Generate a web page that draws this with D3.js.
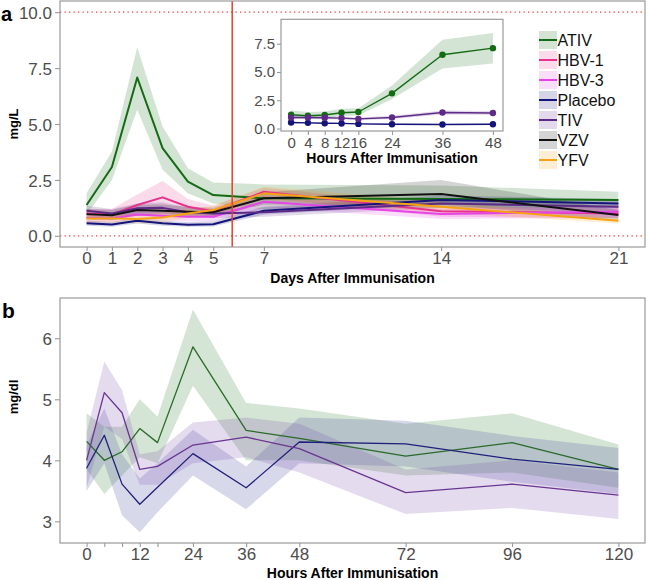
<!DOCTYPE html>
<html>
<head>
<meta charset="utf-8">
<script src="https://cdn.jsdelivr.net/npm/d3@7"></script>
<style>
  html, body { margin: 0; padding: 0; background: #fff; }
  svg { display: block; font-family: "Liberation Sans", Arial, sans-serif; }
</style>
</head>
<body>
<svg id="chart" width="648" height="580"></svg>
<script>
// ---------------- DATA ----------------
const seriesNames = ["ATIV", "HBV-1", "HBV-3", "Placebo", "TIV", "VZV", "YFV"];
const seriesColors = ["#136b13", "#e8338c", "#e645e6", "#14147a", "#5e2a88", "#111111", "#f5a313"];

// Panel a: days after immunisation
const days = [0, 1, 2, 3, 4, 5, 7, 14, 21];
const dayTicks = [0, 1, 2, 3, 4, 5, 7, 14, 21];
const mainValues = {
  "ATIV":    [1.38, 3.08, 7.08, 3.92, 2.42, 1.82, 1.68, 1.65, 1.60],
  "HBV-1":   [1.00, 0.95, 1.38, 1.72, 1.30, 1.10, 1.97, 1.10, 1.00],
  "HBV-3":   [0.80, 0.78, 0.95, 0.90, 0.85, 0.85, 1.52, 0.98, 1.08],
  "Placebo": [0.56, 0.51, 0.67, 0.56, 0.50, 0.52, 1.12, 1.60, 1.45],
  "TIV":     [1.12, 1.00, 1.23, 1.25, 1.05, 1.00, 1.05, 1.45, 1.30],
  "VZV":     [0.97, 0.92, 1.15, 1.12, 1.08, 1.05, 1.68, 1.87, 0.93],
  "YFV":     [0.78, 0.78, 0.75, 0.82, 1.00, 1.15, 1.90, 1.30, 0.67]
};
const mainLower = {
  "ATIV":    [0.95, 2.50, 5.64, 2.95, 1.90, 1.45, 1.20, 1.25, 1.25],
  "HBV-1":   [0.80, 0.75, 0.90, 1.00, 0.95, 0.85, 1.70, 0.85, 0.80],
  "HBV-3":   [0.60, 0.60, 0.75, 0.70, 0.65, 0.65, 1.25, 0.75, 0.80],
  "Placebo": [0.45, 0.40, 0.55, 0.45, 0.40, 0.42, 0.95, 1.40, 1.25],
  "TIV":     [0.90, 0.80, 1.00, 1.00, 0.85, 0.80, 0.85, 1.25, 1.05],
  "VZV":     [0.75, 0.70, 0.90, 0.85, 0.85, 0.85, 1.40, 1.40, 0.70],
  "YFV":     [0.60, 0.60, 0.55, 0.60, 0.80, 0.95, 1.60, 1.05, 0.55]
};
const mainUpper = {
  "ATIV":    [1.90, 3.77, 8.43, 4.89, 3.02, 2.38, 2.30, 2.25, 1.97],
  "HBV-1":   [1.20, 1.20, 1.85, 2.45, 1.65, 1.35, 2.15, 1.35, 1.25],
  "HBV-3":   [1.00, 0.95, 1.15, 1.10, 1.05, 1.05, 1.80, 1.20, 1.35],
  "Placebo": [0.68, 0.62, 0.80, 0.68, 0.62, 0.65, 1.30, 1.80, 1.65],
  "TIV":     [1.35, 1.20, 1.45, 1.50, 1.25, 1.20, 1.25, 1.65, 1.55],
  "VZV":     [1.20, 1.15, 1.40, 1.40, 1.30, 1.25, 1.95, 2.50, 1.15],
  "YFV":     [0.95, 0.95, 0.95, 1.05, 1.20, 1.35, 2.20, 1.55, 0.80]
};
const mainYTicks = [0, 2.5, 5, 7.5, 10];
const cutoffDay = 5.75;

// Inset: hours after immunisation
const insetNames = ["ATIV", "Placebo", "TIV"];
const insetHours = [0, 4, 8, 12, 16, 24, 36, 48];
const insetValues = {
  "ATIV":    [1.22, 1.13, 1.19, 1.40, 1.46, 3.11, 6.52, 7.11],
  "Placebo": [0.53, 0.50, 0.47, 0.45, 0.41, 0.38, 0.36, 0.38],
  "TIV":     [0.98, 0.97, 0.95, 0.92, 0.85, 0.98, 1.42, 1.37]
};
const insetLower = {
  "ATIV":    [0.90, 0.85, 0.90, 1.10, 1.15, 2.60, 5.30, 5.75],
  "Placebo": [0.47, 0.45, 0.42, 0.40, 0.36, 0.33, 0.31, 0.33],
  "TIV":     [0.85, 0.85, 0.82, 0.80, 0.72, 0.85, 1.25, 1.20]
};
const insetUpper = {
  "ATIV":    [1.60, 1.45, 1.50, 1.75, 1.80, 3.80, 7.85, 8.45],
  "Placebo": [0.59, 0.56, 0.53, 0.51, 0.47, 0.44, 0.42, 0.44],
  "TIV":     [1.12, 1.10, 1.08, 1.05, 0.98, 1.12, 1.60, 1.55]
};
const insetYTicks = [0, 2.5, 5, 7.5];
const insetXTicks = [0, 4, 8, 12, 16, 24, 36, 48];

// Panel b: hours after immunisation (mg/dl)
const bNames = ["ATIV", "Placebo", "TIV"];
const bHours = [0, 4, 8, 12, 16, 24, 36, 48, 72, 96, 120];
const bValues = {
  "ATIV":    [4.31, 4.00, 4.14, 4.52, 4.29, 5.86, 4.49, 4.36, 4.07, 4.29, 3.85],
  "Placebo": [3.87, 4.41, 3.61, 3.28, 3.56, 4.11, 3.55, 4.30, 4.27, 4.02, 3.85],
  "TIV":     [4.00, 5.11, 4.78, 3.85, 3.90, 4.25, 4.38, 4.19, 3.47, 3.61, 3.43]
};
const bLower = {
  "ATIV":    [3.85, 3.45, 3.75, 4.05, 3.95, 5.22, 4.00, 4.00, 3.75, 3.80, 3.55],
  "Placebo": [3.50, 3.95, 3.10, 2.82, 3.15, 3.75, 3.20, 3.95, 3.90, 3.65, 3.45],
  "TIV":     [3.55, 4.55, 4.35, 3.60, 3.60, 3.95, 4.05, 3.80, 3.12, 3.22, 3.04]
};
const bUpper = {
  "ATIV":    [4.77, 4.55, 4.55, 5.00, 4.72, 6.47, 4.94, 4.85, 4.60, 4.77, 4.26],
  "Placebo": [4.25, 4.85, 4.10, 3.70, 3.95, 4.50, 3.90, 4.70, 4.65, 4.40, 4.20],
  "TIV":     [4.45, 5.62, 5.15, 4.10, 4.15, 4.62, 4.70, 4.60, 3.85, 4.00, 3.80]
};
const bYTicks = [3, 4, 5, 6];
const bXTicks = [0, 4, 8, 12, 16, 24, 36, 48, 72, 96, 120];
const bXLabels = [0, 12, 24, 36, 48, 72, 96, 120];

// ---------------- DRAWING ----------------
const svg = d3.select("#chart");
const colorOf = d3.scaleOrdinal().domain(seriesNames).range(seriesColors);
const bandColors = {"ATIV": "#2e7d2e", "Placebo": "#3a3a9a", "TIV": "#7a4aa8"};
const bLineColors = {"ATIV": "#2a6a2a", "Placebo": "#20207a", "TIV": "#6a3590"};
const tickColor = "#4d4d4d";
const frameColor = "#9a9a9a";

function drawBands(g, names, xs, lower, upper, x, y, opacity, fillFn) {
  names.forEach(n => {
    const pts = xs.map((v, i) => ({x: v, lo: lower[n][i], hi: upper[n][i]}));
    g.append("path").datum(pts)
      .attr("fill", fillFn(n)).attr("fill-opacity", opacity).attr("stroke", "none")
      .attr("d", d3.area().x(d => x(d.x)).y0(d => y(d.lo)).y1(d => y(d.hi)));
  });
}
function drawLines(g, names, xs, vals, x, y, width, colFn) {
  names.forEach(n => {
    const pts = xs.map((v, i) => ({x: v, y: vals[n][i]}));
    g.append("path").datum(pts)
      .attr("fill", "none").attr("stroke", colFn(n)).attr("stroke-width", width)
      .attr("stroke-linejoin", "round")
      .attr("d", d3.line().x(d => x(d.x)).y(d => y(d.y)));
  });
}
function frame(g, x0, x1, y0, y1) {
  g.append("rect").attr("x", x0).attr("y", y0).attr("width", x1 - x0).attr("height", y1 - y0)
    .attr("fill", "none").attr("stroke", frameColor).attr("stroke-width", 1.2);
}
function styleAxis(ax, fontSize) {
  ax.select(".domain").remove();
  ax.selectAll(".tick line").attr("stroke", frameColor).attr("stroke-width", 1.1);
  ax.selectAll(".tick text").attr("fill", tickColor).attr("font-size", fontSize)
    .attr("font-family", "Liberation Sans, Arial, sans-serif");
}

// ---- Panel a ----
const aL = 60, aR = 645, aT = 1, aB = 247;
const xA = d3.scaleLinear().domain([-1.05, 22.05]).range([aL, aR]);
const yA = d3.scaleLinear().domain([-0.5, 10.5]).range([aB, aT]);
const gA = svg.append("g");

[0, 10].forEach(v => {
  gA.append("line").attr("x1", aL).attr("x2", aR).attr("y1", yA(v)).attr("y2", yA(v))
    .attr("stroke", "#e8402a").attr("stroke-width", 1.2).attr("stroke-dasharray", "1.3,3.2");
});
drawBands(gA, seriesNames, days, mainLower, mainUpper, xA, yA, 0.18, colorOf);
drawLines(gA, seriesNames, days, mainValues, xA, yA, 2, colorOf);
gA.append("line").attr("x1", xA(cutoffDay)).attr("x2", xA(cutoffDay)).attr("y1", aT).attr("y2", aB)
  .attr("stroke", "#e8402a").attr("stroke-width", 1.5);
frame(gA, aL, aR, aT, aB);

const axAx = gA.append("g").attr("transform", `translate(0,${aB})`)
  .call(d3.axisBottom(xA).tickValues(dayTicks).tickSize(4).tickPadding(1).tickFormat(d3.format("d")));
styleAxis(axAx, 17);
const axAy = gA.append("g").attr("transform", `translate(${aL},0)`)
  .call(d3.axisLeft(yA).tickValues(mainYTicks).tickSize(5).tickPadding(3).tickFormat(d3.format(".1f")));
styleAxis(axAy, 17);
axAy.selectAll(".tick text").attr("dy", "0.36em");

svg.append("text").attr("x", (aL + aR) / 2).attr("y", 283).attr("text-anchor", "middle")
  .attr("font-weight", "bold").attr("font-size", 14).text("Days After Immunisation");
svg.append("text").attr("transform", `translate(18,${(aT + aB) / 2}) rotate(-90)`)
  .attr("text-anchor", "middle").attr("font-weight", "bold").attr("font-size", 13).text("mg/L");
svg.append("text").attr("x", 1).attr("y", 21).attr("font-weight", "bold").attr("font-size", 20)
  .text("a");

// ---- Inset ----
const iL = 281, iR = 503, iT = 19.3, iB = 131;
const xI = d3.scaleLinear().domain([-2.4, 50.4]).range([iL, iR]);
const yI = d3.scaleLinear().domain([-0.22, 9.66]).range([iB, iT]);
const gI = svg.append("g");
gI.append("rect").attr("x", iL).attr("y", iT).attr("width", iR - iL).attr("height", iB - iT).attr("fill", "#fff");
drawBands(gI, insetNames, insetHours, insetLower, insetUpper, xI, yI, 0.18, colorOf);
drawLines(gI, insetNames, insetHours, insetValues, xI, yI, 1.4, colorOf);
insetNames.forEach(n => {
  gI.selectAll(null).data(insetHours.map((h, i) => ({x: h, y: insetValues[n][i]})))
    .enter().append("circle").attr("cx", d => xI(d.x)).attr("cy", d => yI(d.y)).attr("r", 3.2)
    .attr("fill", colorOf(n));
});
frame(gI, iL, iR, iT, iB);
const axIx = gI.append("g").attr("transform", `translate(0,${iB})`)
  .call(d3.axisBottom(xI).tickValues(insetXTicks).tickSize(4).tickPadding(2).tickFormat(d3.format("d")));
styleAxis(axIx, 15);
const axIy = gI.append("g").attr("transform", `translate(${iL},0)`)
  .call(d3.axisLeft(yI).tickValues(insetYTicks).tickSize(4).tickPadding(2).tickFormat(d3.format(".1f")));
styleAxis(axIy, 15);
svg.append("text").attr("x", (iL + iR) / 2).attr("y", 163).attr("text-anchor", "middle")
  .attr("font-weight", "bold").attr("font-size", 14).text("Hours After Immunisation");

// ---- Legend ----
const lg = svg.append("g").attr("transform", "translate(539,31)");
seriesNames.forEach((n, i) => {
  const row = lg.append("g").attr("transform", `translate(0,${i * 20})`);
  row.append("rect").attr("x", 0).attr("y", 0).attr("width", 18).attr("height", 18)
    .attr("fill", colorOf(n)).attr("fill-opacity", 0.18);
  row.append("line").attr("x1", 0).attr("x2", 18).attr("y1", 9).attr("y2", 9)
    .attr("stroke", colorOf(n)).attr("stroke-width", 2);
  row.append("text").attr("x", 18.5).attr("y", 9).attr("dy", "0.36em").attr("font-size", 16)
    .attr("fill", "#111").text(n);
});

// ---- Panel b ----
const bL = 60, bR = 645, bT = 298, bB = 543;
const xB = d3.scaleLinear().domain([-6, 126]).range([bL, bR]);
const yB = d3.scaleLinear().domain([2.645, 6.66]).range([bB, bT]);
const gB = svg.append("g");
drawBands(gB, bNames, bHours, bLower, bUpper, xB, yB, 0.2, n => bandColors[n]);
drawLines(gB, bNames, bHours, bValues, xB, yB, 1.3, n => bLineColors[n]);
frame(gB, bL, bR, bT, bB);
const axBx = gB.append("g").attr("transform", `translate(0,${bB})`)
  .call(d3.axisBottom(xB).tickValues(bXTicks).tickSize(4).tickPadding(1)
    .tickFormat(d => bXLabels.includes(d) ? d3.format("d")(d) : ""));
styleAxis(axBx, 17);
const axBy = gB.append("g").attr("transform", `translate(${bL},0)`)
  .call(d3.axisLeft(yB).tickValues(bYTicks).tickSize(5).tickPadding(3).tickFormat(d3.format("d")));
styleAxis(axBy, 17);
axBy.selectAll(".tick text").attr("dy", "0.36em");

svg.append("text").attr("x", (bL + bR) / 2).attr("y", 578).attr("text-anchor", "middle")
  .attr("font-weight", "bold").attr("font-size", 14).text("Hours After Immunisation");
svg.append("text").attr("transform", `translate(18,397) rotate(-90)`)
  .attr("text-anchor", "middle").attr("font-weight", "bold").attr("font-size", 13).text("mg/dl");
svg.append("text").attr("x", 2).attr("y", 318).attr("font-weight", "bold").attr("font-size", 21)
  .text("b");
</script>
</body>
</html>
